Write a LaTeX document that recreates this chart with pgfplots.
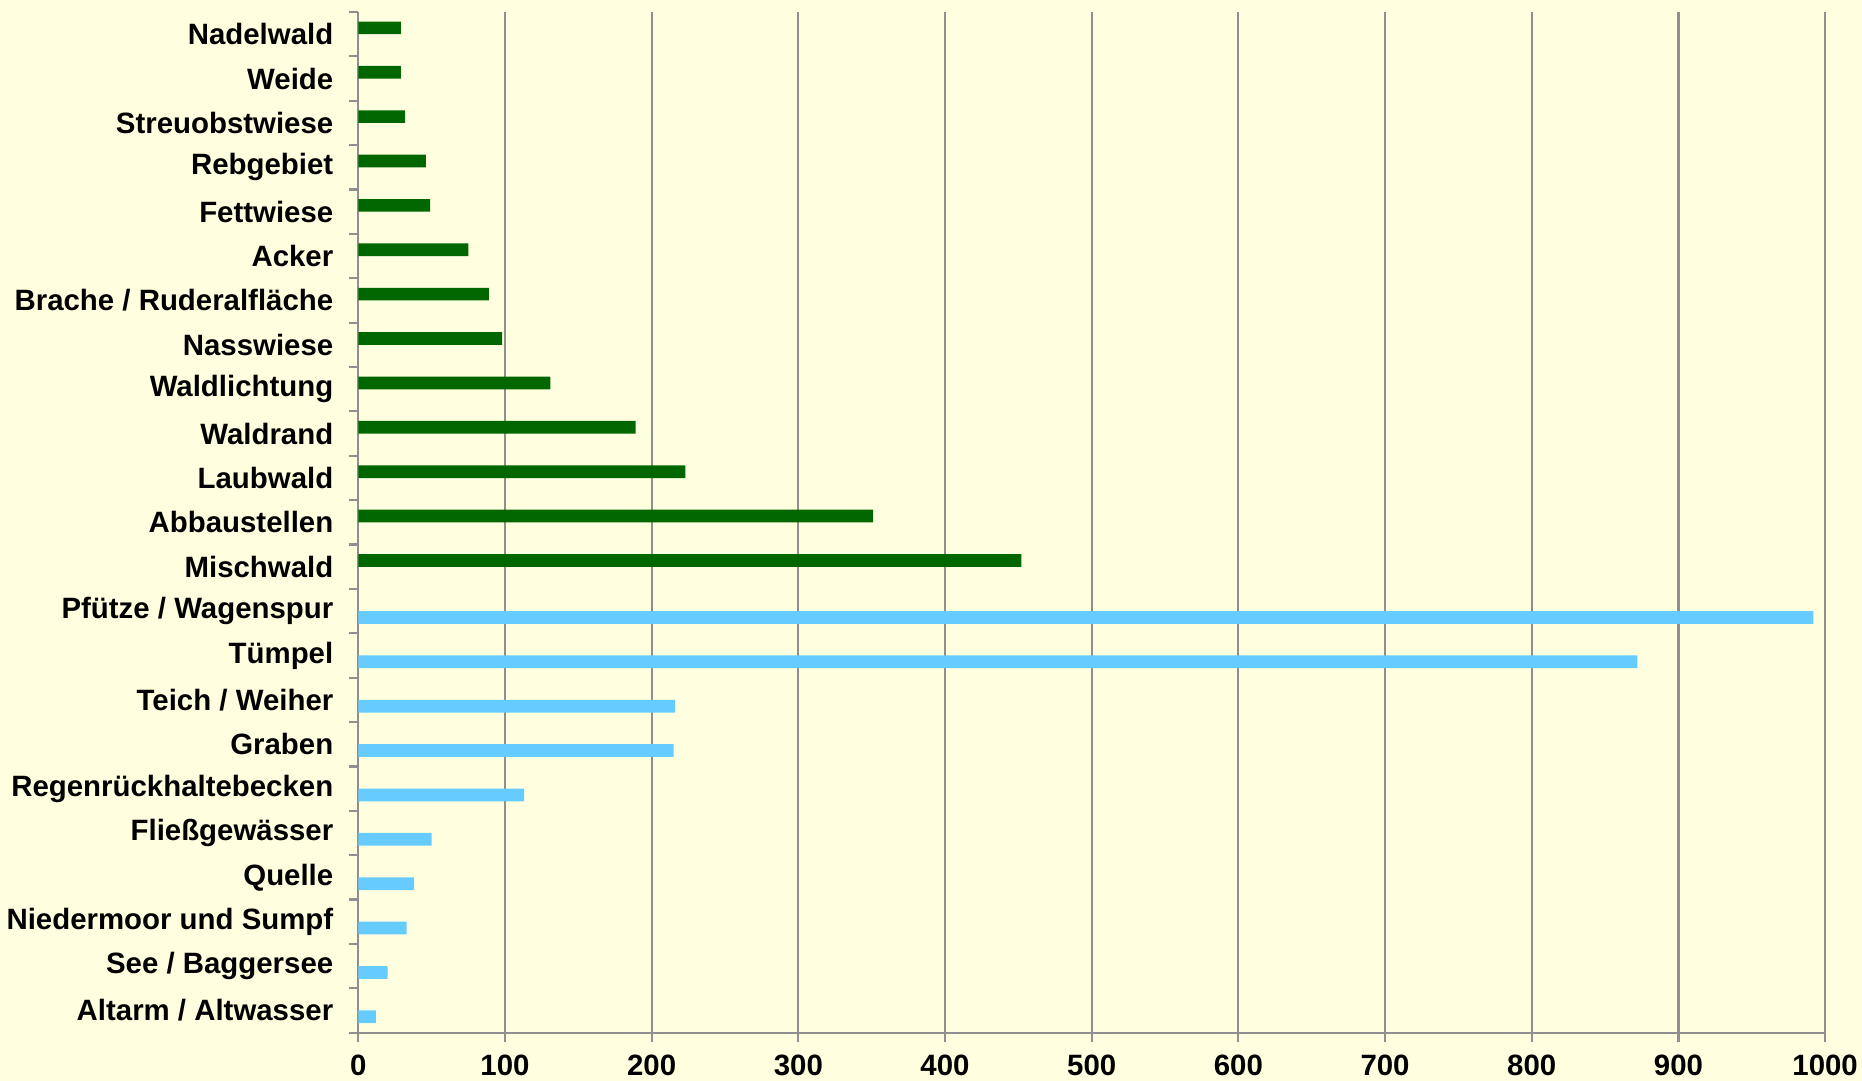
\documentclass[border=0pt]{standalone}
\usepackage{pgfplots}
\pgfplotsset{compat=1.18}
\usepackage{fontspec}
\setmainfont{Liberation Sans}
\definecolor{bg}{HTML}{FFFFDF}
\definecolor{gr}{HTML}{006600}
\definecolor{bl}{HTML}{66CCFF}
\definecolor{gridc}{HTML}{8F8F8F}
\begin{document}
\begin{tikzpicture}
\fill[bg] (-179.15bp,-24.15bp) rectangle (751.85bp,516.35bp);
\begin{axis}[
  at={(0,0)}, anchor=south west,
  scale only axis, width=733.4bp, height=510.35bp,
  xbar, bar width=6.35bp,
  xmin=0, xmax=1000, ymin=-0.5, ymax=22.5,
  axis lines*=left,
  axis line style={gridc, line width=1.1bp, -},
  tick align=outside, major tick length=4.5bp,
  tick style={gridc, line width=1.1bp},
  xtick={0,100,...,1000},
  xmajorgrids, grid style={gridc, line width=1.1bp},
  ytick={-0.5,0.5,...,22.5}, yticklabels={},
  extra y ticks={0,1,...,22},
  extra y tick labels={Altarm / Altwasser, See / Baggersee, Niedermoor und Sumpf, Quelle, Fließgewässer, Regenrückhaltebecken, Graben, Teich / Weiher, Tümpel, Pfütze / Wagenspur, Mischwald, Abbaustellen, Laubwald, Waldrand, Waldlichtung, Nasswiese, Brache / Ruderalfläche, Acker, Fettwiese, Rebgebiet, Streuobstwiese, Weide, Nadelwald},
  extra y tick style={tick style={draw=none}, yticklabel style={xshift=-4.5bp}},
  ticklabel style={font=\bfseries\fontsize{14.7bp}{17bp}\selectfont, text=black},
  xticklabel style={yshift=-3.3bp},
  /pgf/number format/assume math mode=true,
  /pgf/number format/1000 sep={},
]
\addplot[fill=gr, draw=none, bar shift=3.15bp] coordinates {
  (452,10) (351,11) (223,12) (189,13) (131,14) (98,15) (89,16) (75,17) (49,18) (46,19) (32,20) (29,21) (29,22)
};
\addplot[fill=bl, draw=none, bar shift=-3.15bp] coordinates {
  (12,0) (20,1) (33,2) (38,3) (50,4) (113,5) (215,6) (216,7) (872,8) (992,9)
};
\end{axis}
\pgfresetboundingbox
\path (-179.15bp,-24.15bp) rectangle (751.85bp,516.35bp);
\end{tikzpicture}
\end{document}
